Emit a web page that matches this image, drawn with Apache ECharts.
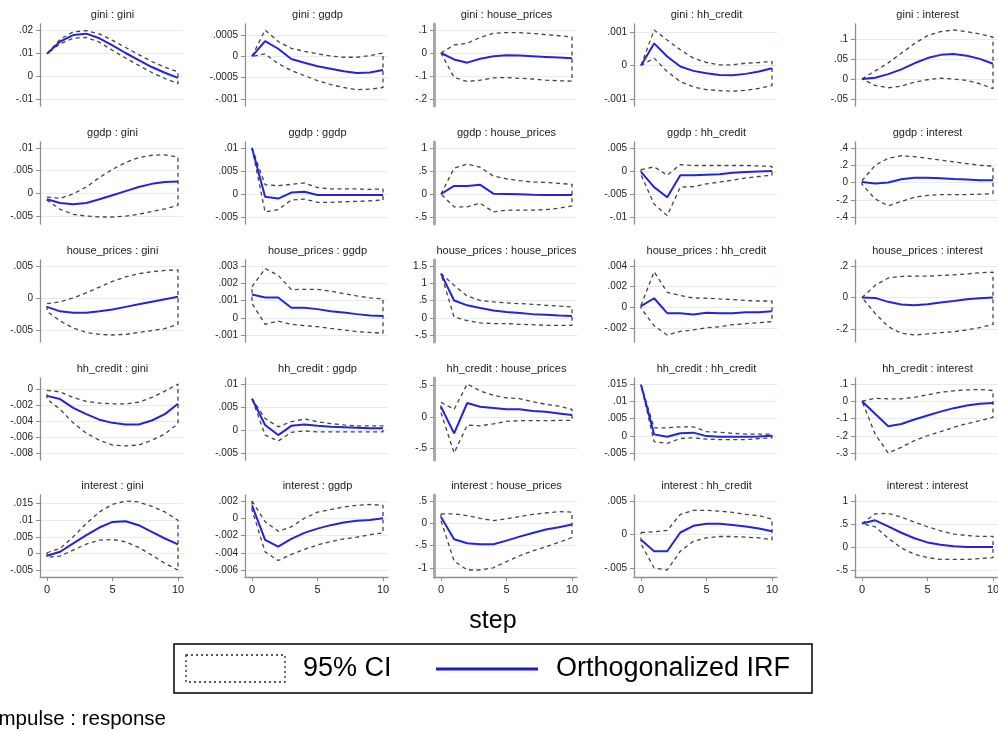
<!DOCTYPE html>
<html>
<head>
<meta charset="utf-8">
<script src="https://cdn.jsdelivr.net/npm/echarts@6/dist/echarts.min.js"></script>
<style>
html, body { margin: 0; padding: 0; background: #fff; }
#chart { width: 998px; height: 731px; }
</style>
</head>
<body>
<div id="chart"></div>
<script>
// Impulse-response grid: rows = impulse variable, columns = response variable
const steps = [0, 1, 2, 3, 4, 5, 6, 7, 8, 9, 10];
const variables = ['gini', 'ggdp', 'house_prices', 'hh_credit', 'interest'];
const xTicks = [0, 5, 10];

// impulse: gini
const irf_gini_gini = [0.0097, 0.0150, 0.0178, 0.0184, 0.0164, 0.0133, 0.0100, 0.0069, 0.0039, 0.0014, -0.0008];
const hi_gini_gini = [0.0097, 0.0160, 0.0192, 0.0197, 0.0183, 0.0155, 0.0124, 0.0093, 0.0063, 0.0038, 0.0018];
const lo_gini_gini = [0.0097, 0.0140, 0.0164, 0.0168, 0.0147, 0.0112, 0.0078, 0.0046, 0.0015, -0.0011, -0.0033];
const ticks_gini_gini = [0.02, 0.01, 0, -0.01];

const irf_gini_ggdp = [0, 0.00036, 0.00018, -0.00006, -0.00015, -0.00023, -0.00029, -0.00035, -0.00039, -0.00038, -0.00032];
const hi_gini_ggdp = [0, 0.00062, 0.00035, 0.00019, 0.00012, 0.00006, 0.00001, -0.00002, -0.00002, 0.00002, 0.00008];
const lo_gini_ggdp = [0, 0.00006, -0.00017, -0.00033, -0.00045, -0.00057, -0.00066, -0.00073, -0.00078, -0.00077, -0.00073];
const ticks_gini_ggdp = [0.0005, 0, -0.0005, -0.001];

const irf_gini_house_prices = [0, -0.028, -0.042, -0.025, -0.014, -0.010, -0.011, -0.014, -0.017, -0.020, -0.023];
const hi_gini_house_prices = [0, 0.035, 0.042, 0.068, 0.085, 0.089, 0.089, 0.085, 0.080, 0.075, 0.070];
const lo_gini_house_prices = [0, -0.106, -0.124, -0.118, -0.108, -0.107, -0.110, -0.113, -0.118, -0.121, -0.122];
const ticks_gini_house_prices = [0.1, 0, -0.1, -0.2];

const irf_gini_hh_credit = [0, 0.00066, 0.00027, -0.00003, -0.00016, -0.00023, -0.00028, -0.00029, -0.00025, -0.00018, -0.00008];
const hi_gini_hh_credit = [0, 0.00106, 0.00076, 0.00047, 0.00022, 0.00009, 0.00002, 0.00002, 0.00007, 0.00009, 0.00012];
const lo_gini_hh_credit = [0, 0.00022, -0.00018, -0.00048, -0.00064, -0.00072, -0.00075, -0.00077, -0.00074, -0.00068, -0.00060];
const ticks_gini_hh_credit = [0.001, 0, -0.001];

const irf_gini_interest = [0, 0.003, 0.012, 0.024, 0.039, 0.052, 0.060, 0.062, 0.058, 0.050, 0.038];
const hi_gini_interest = [0, 0.020, 0.040, 0.064, 0.088, 0.108, 0.118, 0.122, 0.118, 0.112, 0.104];
const lo_gini_interest = [0, -0.016, -0.022, -0.018, -0.008, -0.002, 0.002, 0.000, -0.004, -0.012, -0.024];
const ticks_gini_interest = [0.1, 0.05, 0, -0.05];

// impulse: ggdp
const irf_ggdp_gini = [-0.0013, -0.0021, -0.0024, -0.0021, -0.0013, -0.0004, 0.0005, 0.0014, 0.0021, 0.0025, 0.0026];
const hi_ggdp_gini = [-0.0008, -0.0011, -0.0001, 0.0014, 0.0035, 0.0053, 0.0068, 0.0079, 0.0084, 0.0085, 0.0080];
const lo_ggdp_gini = [-0.0015, -0.0035, -0.0046, -0.0050, -0.0052, -0.0052, -0.0050, -0.0046, -0.0040, -0.0034, -0.0026];
const ticks_ggdp_gini = [0.01, 0.005, 0, -0.005];

const irf_ggdp_ggdp = [0.0100, -0.0006, -0.0010, 0.0003, 0.0005, -0.0002, -0.0002, -0.0002, -0.0002, -0.0002, -0.0002];
const hi_ggdp_ggdp = [0.0100, 0.0020, 0.0018, 0.0021, 0.0024, 0.0014, 0.0011, 0.0011, 0.0011, 0.0010, 0.0011];
const lo_ggdp_ggdp = [0.0100, -0.0039, -0.0034, -0.0013, -0.0011, -0.0018, -0.0018, -0.0017, -0.0016, -0.0015, -0.0013];
const ticks_ggdp_ggdp = [0.01, 0.005, 0, -0.005];

const irf_ggdp_house_prices = [0, 0.175, 0.175, 0.200, 0.007, 0, -0.007, -0.015, -0.020, -0.020, -0.020];
const hi_ggdp_house_prices = [0, 0.56, 0.65, 0.58, 0.39, 0.33, 0.29, 0.26, 0.25, 0.23, 0.21];
const lo_ggdp_house_prices = [0, -0.28, -0.28, -0.20, -0.39, -0.35, -0.35, -0.35, -0.34, -0.31, -0.26];
const ticks_ggdp_house_prices = [1, 0.5, 0, -0.5];

const irf_ggdp_hh_credit = [-0.0002, -0.0035, -0.0057, -0.0009, -0.0009, -0.0008, -0.0007, -0.0004, -0.0002, -0.0001, 0];
const hi_ggdp_hh_credit = [0.0003, 0.0009, -0.0009, 0.0014, 0.0012, 0.0012, 0.0012, 0.0012, 0.0012, 0.0011, 0.0010];
const lo_ggdp_hh_credit = [-0.0008, -0.0072, -0.0097, -0.0035, -0.0034, -0.0028, -0.0024, -0.0020, -0.0015, -0.0012, -0.0009];
const ticks_ggdp_hh_credit = [0.005, 0, -0.005, -0.01];

const irf_ggdp_interest = [0.007, -0.011, 0, 0.037, 0.056, 0.056, 0.049, 0.041, 0.034, 0.026, 0.026];
const hi_ggdp_interest = [0.02, 0.20, 0.28, 0.31, 0.30, 0.28, 0.26, 0.24, 0.22, 0.20, 0.19];
const lo_ggdp_interest = [-0.02, -0.19, -0.27, -0.22, -0.17, -0.15, -0.14, -0.14, -0.14, -0.135, -0.13];
const ticks_ggdp_interest = [0.4, 0.2, 0, -0.2, -0.4];

// impulse: house_prices
const irf_house_prices_gini = [-0.0014, -0.0021, -0.0023, -0.0023, -0.0021, -0.0018, -0.0014, -0.0010, -0.0006, -0.0002, 0.0002];
const hi_house_prices_gini = [-0.0009, -0.0006, 0, 0.0008, 0.0017, 0.0026, 0.0033, 0.0038, 0.0041, 0.0043, 0.0044];
const lo_house_prices_gini = [-0.0021, -0.0036, -0.0047, -0.0054, -0.0057, -0.0058, -0.0057, -0.0054, -0.0051, -0.0048, -0.0041];
const ticks_house_prices_gini = [0.005, 0, -0.005];

const irf_house_prices_ggdp = [0.00135, 0.00117, 0.00117, 0.00058, 0.00058, 0.00050, 0.00038, 0.00031, 0.00021, 0.00013, 0.00010];
const hi_house_prices_ggdp = [0.0018, 0.00285, 0.00246, 0.00163, 0.00165, 0.00165, 0.00154, 0.0014, 0.00127, 0.00115, 0.0011];
const lo_house_prices_ggdp = [0.00083, -0.00038, -0.00019, -0.00038, -0.00046, -0.00052, -0.00062, -0.00071, -0.00081, -0.00085, -0.0009];
const ticks_house_prices_ggdp = [0.003, 0.002, 0.001, 0, -0.001];

const irf_house_prices_house_prices = [1.28, 0.50, 0.36, 0.28, 0.21, 0.165, 0.135, 0.105, 0.087, 0.068, 0.05];
const hi_house_prices_house_prices = [1.28, 0.94, 0.63, 0.50, 0.46, 0.43, 0.41, 0.39, 0.36, 0.34, 0.31];
const lo_house_prices_house_prices = [1.28, 0.02, -0.08, -0.15, -0.17, -0.17, -0.19, -0.20, -0.22, -0.22, -0.22];
const ticks_house_prices_house_prices = [1.5, 1, 0.5, 0, -0.5];

const irf_house_prices_hh_credit = [0.0001, 0.00087, -0.00058, -0.00058, -0.0007, -0.00055, -0.0006, -0.00058, -0.0005, -0.00048, -0.0004];
const hi_house_prices_hh_credit = [0.00016, 0.00345, 0.00145, 0.00113, 0.0009, 0.00087, 0.0008, 0.00074, 0.00065, 0.0006, 0.0006];
const lo_house_prices_hh_credit = [-0.0001, -0.0018, -0.0027, -0.00235, -0.0022, -0.002, -0.0019, -0.0017, -0.0016, -0.0015, -0.0014];
const ticks_house_prices_hh_credit = [0.004, 0.002, 0, -0.002];

const irf_house_prices_interest = [0, -0.002, -0.027, -0.044, -0.048, -0.042, -0.031, -0.021, -0.010, -0.004, 0];
const hi_house_prices_interest = [0, 0.077, 0.124, 0.134, 0.136, 0.136, 0.14, 0.144, 0.15, 0.157, 0.161];
const lo_house_prices_interest = [0, -0.10, -0.184, -0.226, -0.237, -0.23, -0.222, -0.216, -0.205, -0.19, -0.17];
const ticks_house_prices_interest = [0.2, 0, -0.2];

// impulse: hh_credit
const irf_hh_credit_gini = [-0.0008, -0.0012, -0.0023, -0.0031, -0.0038, -0.0042, -0.0044, -0.0044, -0.0039, -0.0031, -0.0018];
const hi_hh_credit_gini = [-0.0001, -0.0003, -0.0010, -0.0015, -0.0017, -0.0018, -0.0018, -0.0016, -0.0010, -0.0002, 0.0007];
const lo_hh_credit_gini = [-0.0012, -0.0025, -0.0042, -0.0055, -0.0064, -0.0070, -0.0071, -0.0070, -0.0064, -0.0056, -0.0043];
const ticks_hh_credit_gini = [0, -0.002, -0.004, -0.006, -0.008];

const irf_hh_credit_ggdp = [0.0068, 0.0011, -0.0011, 0.0009, 0.0012, 0.0009, 0.0007, 0.0006, 0.0005, 0.0004, 0.0004];
const hi_hh_credit_ggdp = [0.0068, 0.0025, 0.0007, 0.0018, 0.0024, 0.0018, 0.0014, 0.0011, 0.0009, 0.0009, 0.0009];
const lo_hh_credit_ggdp = [0.0068, -0.0011, -0.0024, -0.0005, -0.0002, -0.0004, -0.0004, -0.0004, -0.0004, -0.0004, -0.0004];
const ticks_hh_credit_ggdp = [0.01, 0.005, 0, -0.005];

const irf_hh_credit_house_prices = [0.16, -0.26, 0.22, 0.16, 0.14, 0.12, 0.12, 0.095, 0.08, 0.055, 0.03];
const hi_hh_credit_house_prices = [0.23, 0.12, 0.52, 0.41, 0.34, 0.30, 0.29, 0.24, 0.20, 0.17, 0.12];
const lo_hh_credit_house_prices = [0.07, -0.57, -0.13, -0.14, -0.11, -0.07, -0.06, -0.06, -0.06, -0.055, -0.055];
const ticks_hh_credit_house_prices = [0.5, 0, -0.5];

const irf_hh_credit_hh_credit = [0.0148, 0.0004, -0.0003, 0.0007, 0.0009, -0.0001, -0.0003, -0.0003, -0.0003, -0.0002, 0];
const hi_hh_credit_hh_credit = [0.0148, 0.0023, 0.0023, 0.0026, 0.0026, 0.0012, 0.0010, 0.0007, 0.0005, 0.0005, 0.0005];
const lo_hh_credit_hh_credit = [0.0148, -0.0017, -0.0022, -0.0008, -0.0006, -0.0010, -0.0011, -0.0011, -0.0011, -0.0008, -0.0006];
const ticks_hh_credit_hh_credit = [0.015, 0.01, 0.005, 0, -0.005];

const irf_hh_credit_interest = [0, -0.073, -0.145, -0.132, -0.106, -0.083, -0.060, -0.040, -0.025, -0.015, -0.010];
const hi_hh_credit_interest = [0, 0.017, 0.014, 0.014, 0.023, 0.037, 0.052, 0.060, 0.066, 0.068, 0.062];
const lo_hh_credit_interest = [0, -0.19, -0.30, -0.267, -0.228, -0.20, -0.176, -0.151, -0.13, -0.112, -0.093];
const ticks_hh_credit_interest = [0.1, 0, -0.1, -0.2, -0.3];

// impulse: interest
const irf_interest_gini = [-0.0007, 0.0005, 0.0030, 0.0055, 0.0078, 0.0095, 0.0097, 0.0085, 0.0065, 0.0045, 0.0027];
const hi_interest_gini = [0.0002, 0.0015, 0.0050, 0.0090, 0.0125, 0.0148, 0.0158, 0.0155, 0.0142, 0.0125, 0.0100];
const lo_interest_gini = [-0.0012, -0.0008, 0.0010, 0.0028, 0.0040, 0.0042, 0.0035, 0.0018, -0.0005, -0.0030, -0.0050];
const ticks_interest_gini = [0.015, 0.01, 0.005, 0, -0.005];

const irf_interest_ggdp = [0.0015, -0.0025, -0.0033, -0.0024, -0.0017, -0.0012, -0.0008, -0.0005, -0.0003, -0.0002, 0];
const hi_interest_ggdp = [0.0020, -0.0004, -0.0015, -0.0010, 0, 0.0007, 0.0010, 0.0013, 0.0015, 0.0016, 0.0015];
const lo_interest_ggdp = [0.0010, -0.0039, -0.0049, -0.0042, -0.0036, -0.0031, -0.0027, -0.0024, -0.0022, -0.0019, -0.0017];
const ticks_interest_ggdp = [0.002, 0, -0.002, -0.004, -0.006];

const irf_interest_house_prices = [0.14, -0.36, -0.45, -0.47, -0.47, -0.39, -0.30, -0.22, -0.14, -0.09, -0.03];
const hi_interest_house_prices = [0.21, 0.21, 0.17, 0.11, 0.06, 0.10, 0.15, 0.20, 0.23, 0.26, 0.25];
const lo_interest_house_prices = [0.06, -0.85, -1.05, -1.05, -1.00, -0.86, -0.73, -0.62, -0.53, -0.43, -0.32];
const ticks_interest_house_prices = [0.5, 0, -0.5, -1];

const irf_interest_hh_credit = [-0.0008, -0.0025, -0.0025, 0.0003, 0.0013, 0.0016, 0.0016, 0.0014, 0.0012, 0.0009, 0.0005];
const hi_interest_hh_credit = [0.0003, 0.0004, 0.0006, 0.0030, 0.0036, 0.0036, 0.0035, 0.0033, 0.0030, 0.0028, 0.0023];
const lo_interest_hh_credit = [-0.0014, -0.0050, -0.0053, -0.0025, -0.0010, -0.0005, -0.0003, -0.0003, -0.0004, -0.0005, -0.0008];
const ticks_interest_hh_credit = [0.005, 0, -0.005];

const irf_interest_interest = [0.51, 0.58, 0.45, 0.31, 0.19, 0.10, 0.05, 0.015, 0, 0, 0];
const hi_interest_interest = [0.51, 0.72, 0.73, 0.65, 0.54, 0.44, 0.35, 0.28, 0.25, 0.23, 0.23];
const lo_interest_interest = [0.51, 0.44, 0.19, -0.02, -0.16, -0.23, -0.27, -0.27, -0.27, -0.25, -0.23];
const ticks_interest_interest = [1, 0.5, 0, -0.5];

// panels in row-major order: [irf, lower, upper, y ticks]
const panels = [
  [irf_gini_gini, lo_gini_gini, hi_gini_gini, ticks_gini_gini],
  [irf_gini_ggdp, lo_gini_ggdp, hi_gini_ggdp, ticks_gini_ggdp],
  [irf_gini_house_prices, lo_gini_house_prices, hi_gini_house_prices, ticks_gini_house_prices],
  [irf_gini_hh_credit, lo_gini_hh_credit, hi_gini_hh_credit, ticks_gini_hh_credit],
  [irf_gini_interest, lo_gini_interest, hi_gini_interest, ticks_gini_interest],
  [irf_ggdp_gini, lo_ggdp_gini, hi_ggdp_gini, ticks_ggdp_gini],
  [irf_ggdp_ggdp, lo_ggdp_ggdp, hi_ggdp_ggdp, ticks_ggdp_ggdp],
  [irf_ggdp_house_prices, lo_ggdp_house_prices, hi_ggdp_house_prices, ticks_ggdp_house_prices],
  [irf_ggdp_hh_credit, lo_ggdp_hh_credit, hi_ggdp_hh_credit, ticks_ggdp_hh_credit],
  [irf_ggdp_interest, lo_ggdp_interest, hi_ggdp_interest, ticks_ggdp_interest],
  [irf_house_prices_gini, lo_house_prices_gini, hi_house_prices_gini, ticks_house_prices_gini],
  [irf_house_prices_ggdp, lo_house_prices_ggdp, hi_house_prices_ggdp, ticks_house_prices_ggdp],
  [irf_house_prices_house_prices, lo_house_prices_house_prices, hi_house_prices_house_prices, ticks_house_prices_house_prices],
  [irf_house_prices_hh_credit, lo_house_prices_hh_credit, hi_house_prices_hh_credit, ticks_house_prices_hh_credit],
  [irf_house_prices_interest, lo_house_prices_interest, hi_house_prices_interest, ticks_house_prices_interest],
  [irf_hh_credit_gini, lo_hh_credit_gini, hi_hh_credit_gini, ticks_hh_credit_gini],
  [irf_hh_credit_ggdp, lo_hh_credit_ggdp, hi_hh_credit_ggdp, ticks_hh_credit_ggdp],
  [irf_hh_credit_house_prices, lo_hh_credit_house_prices, hi_hh_credit_house_prices, ticks_hh_credit_house_prices],
  [irf_hh_credit_hh_credit, lo_hh_credit_hh_credit, hi_hh_credit_hh_credit, ticks_hh_credit_hh_credit],
  [irf_hh_credit_interest, lo_hh_credit_interest, hi_hh_credit_interest, ticks_hh_credit_interest],
  [irf_interest_gini, lo_interest_gini, hi_interest_gini, ticks_interest_gini],
  [irf_interest_ggdp, lo_interest_ggdp, hi_interest_ggdp, ticks_interest_ggdp],
  [irf_interest_house_prices, lo_interest_house_prices, hi_interest_house_prices, ticks_interest_house_prices],
  [irf_interest_hh_credit, lo_interest_hh_credit, hi_interest_hh_credit, ticks_interest_hh_credit],
  [irf_interest_interest, lo_interest_interest, hi_interest_interest, ticks_interest_interest]
];

// layout of the 5x5 grid (plot regions in px)
const FONT = "'Liberation Sans', Arial, Helvetica, sans-serif";
const COL_X = [40, 245, 434, 634, 855];
const ROW_Y = [24, 142, 260, 378, 495];
const PLOT_W = 143, PLOT_H = 82;
const PAD_L = 7, PAD_R = 5, PAD_T = 6, PAD_B = 7;
const AXIS_GRAY = '#8e8e8e';

// Stata-style number labels: drop the leading zero (.005, -.01)
function fmt(v) {
  if (Math.abs(v) < 1e-12) return '0';
  const s = String(+Number(v).toPrecision(8));
  return s.replace(/^(-?)0\./, '$1.');
}

const grids = [], xAxes = [], yAxes = [], series = [], graphics = [];

panels.forEach(function (p, k) {
  const r = Math.floor(k / 5), c = k % 5;
  const irf = p[0], lo = p[1], hi = p[2], ticks = p[3];
  const all = ticks.concat(irf, lo, hi);
  const vmin = Math.min.apply(null, all), vmax = Math.max.apply(null, all);
  const yUnit = (vmax - vmin) / (PLOT_H - PAD_T - PAD_B);
  const xUnit = 10 / (PLOT_W - PAD_L - PAD_R);
  const bottomRow = r === 4;

  grids.push({
    left: COL_X[c], top: ROW_Y[r], width: PLOT_W, height: PLOT_H,
    outerBoundsMode: 'none', containLabel: false
  });

  xAxes.push({
    gridIndex: k, type: 'value',
    min: -PAD_L * xUnit, max: 10 + PAD_R * xUnit,
    axisLine: { show: bottomRow, onZero: false, lineStyle: { color: AXIS_GRAY, width: 1.3 } },
    axisTick: { show: bottomRow, customValues: xTicks, length: 4, lineStyle: { color: AXIS_GRAY, width: 1 } },
    axisLabel: { show: bottomRow, customValues: xTicks, fontSize: 11, color: '#222', fontFamily: FONT, margin: 7 },
    splitLine: { show: false }
  });

  yAxes.push({
    gridIndex: k, type: 'value',
    min: vmin - PAD_B * yUnit, max: vmax + PAD_T * yUnit,
    axisLine: { show: true, onZero: false, lineStyle: { color: c === 2 ? '#a8a8a8' : AXIS_GRAY, width: c === 2 ? 3 : 1.3 } },
    axisTick: { show: true, customValues: ticks, length: 4, lineStyle: { color: AXIS_GRAY, width: 1 } },
    axisLabel: { customValues: ticks, formatter: fmt, fontSize: 10, color: '#222', fontFamily: FONT, margin: 7 },
    splitLine: { show: true, lineStyle: { color: '#e4eef0', width: 1 } }
  });

  // confidence band drawn as a closed dashed outline: upper forward, lower backward
  const band = steps.map(function (s, i) { return [s, hi[i]]; })
    .concat(steps.map(function (s, i) { return [s, lo[i]]; }).reverse())
    .concat([[steps[0], hi[0]]]);

  series.push({
    type: 'line', xAxisIndex: k, yAxisIndex: k, data: band,
    symbol: 'none', showSymbol: false, silent: true, z: 2,
    lineStyle: { color: '#444', width: 1.3, type: [4, 3.5] }
  });
  series.push({
    type: 'line', xAxisIndex: k, yAxisIndex: k,
    data: steps.map(function (s, i) { return [s, irf[i]]; }),
    symbol: 'none', showSymbol: false, silent: true, z: 3,
    lineStyle: { color: '#2424dc', width: 2 }
  });

  graphics.push({
    type: 'text',
    x: COL_X[c] + PAD_L + (PLOT_W - PAD_L - PAD_R) / 2,
    y: ROW_Y[r] - 9,
    style: {
      text: variables[r] + ' : ' + variables[c],
      fontSize: 11, fontFamily: FONT, fill: '#222',
      align: 'center', verticalAlign: 'middle'
    }
  });
});

// shared x-axis title
graphics.push({
  type: 'text', x: 493, y: 621,
  style: { text: 'step', fontSize: 25, fontFamily: FONT, fill: '#000', align: 'center', verticalAlign: 'middle' }
});

// legend box
graphics.push({
  type: 'rect', shape: { x: 174, y: 644, width: 638, height: 49 },
  style: { fill: '#fff', stroke: '#000', lineWidth: 1.5 }
});
graphics.push({
  type: 'rect', shape: { x: 186, y: 655, width: 99, height: 27 },
  style: { fill: 'none', stroke: '#222', lineWidth: 1.3, lineDash: [2, 3] }
});
graphics.push({
  type: 'text', x: 303, y: 669,
  style: { text: '95% CI', fontSize: 27, fontFamily: FONT, fill: '#000', align: 'left', verticalAlign: 'middle' }
});
graphics.push({
  type: 'line', shape: { x1: 436, y1: 669, x2: 538, y2: 669 },
  style: { stroke: '#1a1ad0', lineWidth: 3 }
});
graphics.push({
  type: 'text', x: 556, y: 669,
  style: { text: 'Orthogonalized IRF', fontSize: 27, fontFamily: FONT, fill: '#000', align: 'left', verticalAlign: 'middle' }
});

// note below the legend
graphics.push({
  type: 'text', x: 166, y: 719,
  style: { text: 'impulse : response', fontSize: 20.5, fontFamily: FONT, fill: '#000', align: 'right', verticalAlign: 'middle' }
});

const chart = echarts.init(document.getElementById('chart'), null, { renderer: 'canvas', width: 998, height: 731 });
chart.setOption({
  backgroundColor: '#fff',
  animation: false,
  grid: grids,
  xAxis: xAxes,
  yAxis: yAxes,
  series: series,
  graphic: graphics
});
</script>
</body>
</html>
